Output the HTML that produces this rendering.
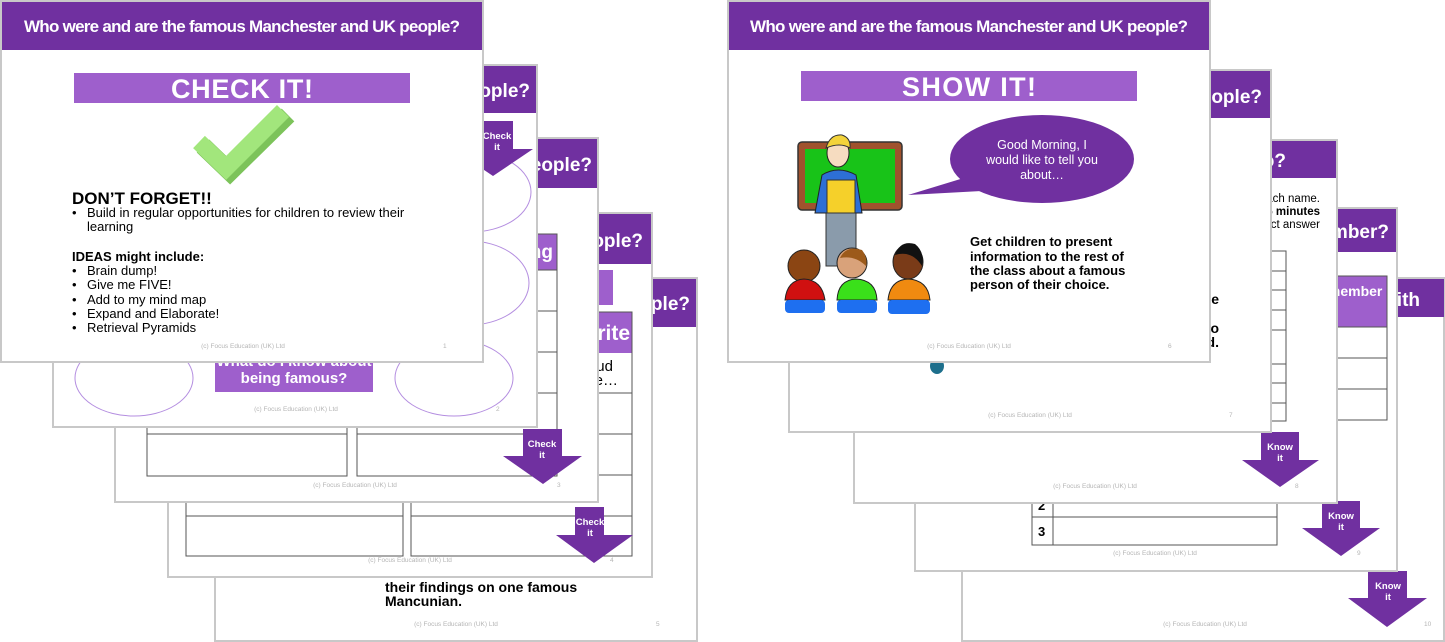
<!DOCTYPE html>
<html><head><meta charset="utf-8"><style>
html,body{margin:0;padding:0;background:#fff;}
svg{display:block;}
text{font-family:"Liberation Sans",sans-serif;}
.h{fill:#fff;font-weight:bold;font-size:17px;}
.f{fill:#b5b5b5;font-size:6.5px;}
.b{fill:#000;font-size:13px;}
.bb{fill:#000;font-size:13px;font-weight:bold;}
.at{fill:#fff;font-size:9.5px;font-weight:bold;}
</style></head><body>
<svg width="1445" height="642" viewBox="0 0 1445 642" xmlns="http://www.w3.org/2000/svg">

<!-- ===== LEFT STACK ===== -->
<!-- Slide 5 -->
<rect x="215" y="278" width="482" height="363" fill="#fff" stroke="#c8c8c8" stroke-width="2"/>
<rect x="216" y="279" width="480" height="48" fill="#7030a0"/>
<text class="h" x="690" y="310" text-anchor="end" style="font-size:19px">Who were and are the famous Manchester and UK people?</text>
<text class="bb" x="385" y="592" style="font-size:14px">their findings on one famous</text>
<text class="bb" x="385" y="606" style="font-size:14px">Mancunian.</text>
<text class="f" x="456" y="626" text-anchor="middle">(c) Focus Education (UK) Ltd</text>
<text class="f" x="656" y="626">5</text>

<!-- Slide 4 -->
<rect x="168" y="213" width="484" height="364" fill="#fff" stroke="#c8c8c8" stroke-width="2"/>
<rect x="169" y="214" width="482" height="50" fill="#7030a0"/>
<text class="h" x="643" y="247" text-anchor="end" style="font-size:19px">Who were and are the famous Manchester and UK people?</text>
<rect x="380" y="270" width="233" height="35" fill="#9e5fcc"/>
<rect x="411" y="312" width="221" height="41" fill="#9e5fcc"/>
<text class="h" x="630" y="340" text-anchor="end" style="font-size:21px">Write</text>
<rect x="186" y="312" width="217" height="41" fill="#9e5fcc"/>
<g fill="none" stroke="#555" stroke-width="1">
<rect x="411" y="312" width="221" height="244"/>
<rect x="186" y="312" width="217" height="244"/>
<path d="M411 393H632M411 434H632M411 475H632M411 516H632M186 393H403M186 434H403M186 475H403M186 516H403"/>
</g>
<text class="b" x="613" y="371" text-anchor="end" style="font-size:15px">Read aloud</text>
<text class="b" x="618" y="385" text-anchor="end" style="font-size:15px">the…</text>
<polygon points="575,507 604,507 604,535 633,535 594,563 556,535 575,535" fill="#7030a0"/>
<text class="at" x="590" y="525" text-anchor="middle">Check</text>
<text class="at" x="590" y="536" text-anchor="middle">it</text>
<text class="f" x="410" y="562" text-anchor="middle">(c) Focus Education (UK) Ltd</text>
<text class="f" x="610" y="562">4</text>

<!-- Slide 3 -->
<rect x="115" y="138" width="483" height="364" fill="#fff" stroke="#c8c8c8" stroke-width="2"/>
<rect x="116" y="139" width="481" height="49" fill="#7030a0"/>
<text class="h" x="592" y="171" text-anchor="end" style="font-size:19px">Who were and are the famous Manchester and UK people?</text>
<rect x="357" y="234" width="200" height="36" fill="#9e5fcc"/>
<text class="h" x="553" y="258" text-anchor="end" style="font-size:19px">Learning</text>
<g fill="none" stroke="#555" stroke-width="1">
<rect x="357" y="234" width="200" height="242"/>
<rect x="147" y="234" width="200" height="242"/>
<path d="M357 270H557M357 311H557M357 352H557M357 393H557M357 434H557M147 270H347M147 311H347M147 352H347M147 393H347M147 434H347"/>
</g>
<polygon points="523,429 562,429 562,456 582,456 543,484 503,456 523,456" fill="#7030a0"/>
<text class="at" x="542" y="447" text-anchor="middle">Check</text>
<text class="at" x="542" y="458" text-anchor="middle">it</text>
<text class="f" x="355" y="487" text-anchor="middle">(c) Focus Education (UK) Ltd</text>
<text class="f" x="557" y="487">3</text>

<!-- Slide 2 -->
<rect x="53" y="65" width="484" height="362" fill="#fff" stroke="#c8c8c8" stroke-width="2"/>
<rect x="54" y="66" width="482" height="47" fill="#7030a0"/>
<text class="h" x="530" y="97" text-anchor="end" style="font-size:19px">Who were and are the famous Manchester and UK people?</text>
<g fill="none" stroke="#b48ee0" stroke-width="1">
<ellipse cx="134" cy="192" rx="60" ry="40"/>
<ellipse cx="134" cy="283" rx="60" ry="42"/>
<ellipse cx="134" cy="378" rx="59" ry="38"/>
<ellipse cx="471" cy="192" rx="60" ry="40"/>
<ellipse cx="469" cy="283" rx="60" ry="42"/>
<ellipse cx="454" cy="378" rx="59" ry="38"/>
</g>
<rect x="215" y="340" width="158" height="52" fill="#9e5fcc"/>
<text class="h" x="294" y="366" text-anchor="middle" style="font-size:15px">What do I know about</text>
<text class="h" x="294" y="383" text-anchor="middle" style="font-size:15px">being famous?</text>
<polygon points="478,121 513,121 513,149 533,149 493,176 453,149 478,149" fill="#7030a0"/>
<text class="at" x="497" y="139" text-anchor="middle">Check</text>
<text class="at" x="497" y="150" text-anchor="middle">it</text>
<text class="f" x="296" y="411" text-anchor="middle">(c) Focus Education (UK) Ltd</text>
<text class="f" x="496" y="411">2</text>

<!-- Slide 1 -->
<rect x="1" y="1" width="482" height="361" fill="#fff" stroke="#c8c8c8" stroke-width="2"/>
<rect x="2" y="2" width="480" height="48" fill="#7030a0"/>
<text class="h" x="242" y="32" text-anchor="middle" textLength="436">Who were and are the famous Manchester and UK people?</text>
<rect x="74" y="73" width="336" height="30" fill="#9e5fcc"/>
<text x="242" y="98" text-anchor="middle" fill="#fff" font-weight="bold" font-size="27" textLength="142">CHECK IT!</text>
<polyline points="203,146 230,172 288,115" fill="none" stroke="#7cc35a" stroke-width="18"/>
<polyline points="199,142 226,168 283,111" fill="none" stroke="#a2e67c" stroke-width="17"/>
<text class="bb" x="72" y="204" style="font-size:17px">DON’T FORGET!!</text>
<text class="b" x="72" y="217">•</text><text class="b" x="87" y="217">Build in regular opportunities for children to review their</text>
<text class="b" x="87" y="231">learning</text>
<text class="bb" x="72" y="261">IDEAS might include:</text>
<text class="b" x="72" y="275">•</text><text class="b" x="87" y="275">Brain dump!</text>
<text class="b" x="72" y="289">•</text><text class="b" x="87" y="289">Give me FIVE!</text>
<text class="b" x="72" y="304">•</text><text class="b" x="87" y="304">Add to my mind map</text>
<text class="b" x="72" y="318">•</text><text class="b" x="87" y="318">Expand and Elaborate!</text>
<text class="b" x="72" y="332">•</text><text class="b" x="87" y="332">Retrieval Pyramids</text>
<text class="f" x="243" y="348" text-anchor="middle">(c) Focus Education (UK) Ltd</text>
<text class="f" x="443" y="348">1</text>

<!-- ===== RIGHT STACK ===== -->
<!-- Slide 10 -->
<rect x="962" y="278" width="482" height="363" fill="#fff" stroke="#c8c8c8" stroke-width="2"/>
<rect x="963" y="279" width="481" height="38" fill="#7030a0"/>
<text class="h" x="1420" y="306" text-anchor="end" style="font-size:19px">Who do you share something with</text>
<polygon points="1368,571 1407,571 1407,598 1427,598 1387,627 1348,598 1368,598" fill="#7030a0"/>
<text class="at" x="1388" y="589" text-anchor="middle">Know</text>
<text class="at" x="1388" y="600" text-anchor="middle">it</text>
<text class="f" x="1205" y="626" text-anchor="middle">(c) Focus Education (UK) Ltd</text>
<text class="f" x="1424" y="626">10</text>

<!-- Slide 9 -->
<rect x="915" y="208" width="482" height="363" fill="#fff" stroke="#c8c8c8" stroke-width="2"/>
<rect x="916" y="209" width="480" height="43" fill="#7030a0"/>
<text class="h" x="1389" y="238" text-anchor="end" style="font-size:19px">Who do we remember?</text>
<rect x="1240" y="276" width="147" height="51" fill="#9e5fcc"/>
<text class="h" x="1310" y="296" style="font-size:14px">Remember</text>
<text class="h" x="1310" y="312" style="font-size:14px">one</text>
<g fill="none" stroke="#555" stroke-width="1">
<rect x="1240" y="276" width="147" height="144"/>
<path d="M1240 327H1387M1240 358H1387M1240 389H1387"/>
<rect x="1032" y="488" width="245" height="57"/>
<path d="M1032 517H1277M1053 488V545"/>
</g>
<text class="bb" x="1038" y="510">2</text>
<text class="bb" x="1038" y="536">3</text>
<polygon points="1322,501 1360,501 1360,528 1380,528 1341,556 1302,528 1322,528" fill="#7030a0"/>
<text class="at" x="1341" y="519" text-anchor="middle">Know</text>
<text class="at" x="1341" y="530" text-anchor="middle">it</text>
<text class="f" x="1155" y="555" text-anchor="middle">(c) Focus Education (UK) Ltd</text>
<text class="f" x="1357" y="555">9</text>

<!-- Slide 8 -->
<rect x="854" y="140" width="483" height="363" fill="#fff" stroke="#c8c8c8" stroke-width="2"/>
<rect x="855" y="141" width="481" height="37" fill="#7030a0"/>
<text class="h" x="1286" y="167" text-anchor="end" style="font-size:19px">Who was who?</text>
<text class="b" x="1320" y="202" text-anchor="end" style="font-size:11.5px">Write each name.</text>
<text class="bb" x="1320" y="215" text-anchor="end" style="font-size:11.5px">You have 5 minutes</text>
<text class="b" x="1320" y="228" text-anchor="end" style="font-size:11.5px">the correct answer</text>
<g fill="none" stroke="#555" stroke-width="1">
<rect x="1040" y="251" width="246" height="170"/>
<path d="M1040 271H1286M1040 290H1286M1040 310H1286M1040 330H1286M1040 364H1286M1040 383H1286M1040 403H1286"/>
</g>
<polygon points="1261,432 1299,432 1299,460 1319,460 1280,487 1242,460 1261,460" fill="#7030a0"/>
<text class="at" x="1280" y="450" text-anchor="middle">Know</text>
<text class="at" x="1280" y="461" text-anchor="middle">it</text>
<text class="f" x="1095" y="488" text-anchor="middle">(c) Focus Education (UK) Ltd</text>
<text class="f" x="1295" y="488">8</text>

<!-- Slide 7 -->
<rect x="789" y="70" width="482" height="362" fill="#fff" stroke="#c8c8c8" stroke-width="2"/>
<rect x="790" y="71" width="480" height="47" fill="#7030a0"/>
<text class="h" x="1262" y="103" text-anchor="end" style="font-size:19px">Who were and are the famous Manchester and UK people?</text>
<text class="bb" x="1219" y="304" text-anchor="end" style="font-size:14px">the</text>
<text class="bb" x="1219" y="333" text-anchor="end" style="font-size:14px">to</text>
<text class="bb" x="1219" y="347" text-anchor="end" style="font-size:14px">and.</text>
<ellipse cx="937" cy="366" rx="7" ry="8" fill="#1e6f8c"/>
<text class="f" x="1030" y="417" text-anchor="middle">(c) Focus Education (UK) Ltd</text>
<text class="f" x="1229" y="417">7</text>

<!-- Slide 6 -->
<rect x="728" y="1" width="482" height="361" fill="#fff" stroke="#c8c8c8" stroke-width="2"/>
<rect x="729" y="2" width="480" height="48" fill="#7030a0"/>
<text class="h" x="969" y="32" text-anchor="middle" textLength="438">Who were and are the famous Manchester and UK people?</text>
<rect x="801" y="71" width="336" height="30" fill="#9e5fcc"/>
<text x="969" y="96" text-anchor="middle" fill="#fff" font-weight="bold" font-size="27" textLength="134">SHOW IT!</text>
<ellipse cx="1042" cy="159" rx="92" ry="44" fill="#7030a0"/>
<polygon points="908,195 990,170 1000,190" fill="#7030a0"/>
<text x="1042" y="149" text-anchor="middle" fill="#fff" font-size="12.5">Good Morning, I</text>
<text x="1042" y="164" text-anchor="middle" fill="#fff" font-size="12.5">would like to tell you</text>
<text x="1042" y="179" text-anchor="middle" fill="#fff" font-size="12.5">about…</text>
<rect x="798" y="142" width="104" height="68" rx="4" fill="#a0522d" stroke="#333" stroke-width="1.5"/>
<rect x="805" y="149" width="90" height="54" fill="#18c318"/>
<rect x="826" y="208" width="30" height="58" fill="#8a9bab" stroke="#333"/>
<path d="M815 213 L822 175 Q838 165 856 175 L862 213 Z" fill="#2d6fd6" stroke="#222"/>
<rect x="827" y="180" width="28" height="33" fill="#f5d02a" stroke="#333"/>
<ellipse cx="838" cy="153" rx="11" ry="14" fill="#f6dcc0" stroke="#222"/>
<path d="M826 148 Q830 134 842 135 Q851 138 850 148 Q840 142 826 148Z" fill="#f3d33a" stroke="#333"/>
<ellipse cx="804" cy="266" rx="16" ry="16" fill="#8b4513" stroke="#222"/>
<path d="M785 300 Q787 280 804 279 Q822 280 825 300Z" fill="#d01010" stroke="#222"/>
<rect x="785" y="300" width="40" height="13" rx="4" fill="#1e6ff0"/>
<ellipse cx="852" cy="263" rx="15" ry="15" fill="#d9a27a" stroke="#222"/>
<path d="M840 258 Q846 245 862 250 Q868 258 866 266 Q855 255 840 258Z" fill="#9c5a1a"/>
<path d="M837 300 Q838 280 856 279 Q876 280 877 300Z" fill="#3ae01a" stroke="#222"/>
<rect x="837" y="300" width="40" height="13" rx="4" fill="#1e6ff0"/>
<ellipse cx="908" cy="262" rx="15" ry="17" fill="#7a3b18" stroke="#222"/>
<path d="M895 255 Q900 240 915 244 Q925 252 922 266 Q912 250 895 255Z" fill="#111"/>
<path d="M888 300 Q890 280 908 279 Q928 280 930 300Z" fill="#f08a10" stroke="#222"/>
<rect x="888" y="300" width="42" height="14" rx="4" fill="#1e6ff0"/>
<text class="bb" x="970" y="246">Get children to present</text>
<text class="bb" x="970" y="261">information to the rest of</text>
<text class="bb" x="970" y="275">the class about a famous</text>
<text class="bb" x="970" y="289">person of their choice.</text>
<text class="f" x="969" y="348" text-anchor="middle">(c) Focus Education (UK) Ltd</text>
<text class="f" x="1168" y="348">6</text>
</svg>
</body></html>
